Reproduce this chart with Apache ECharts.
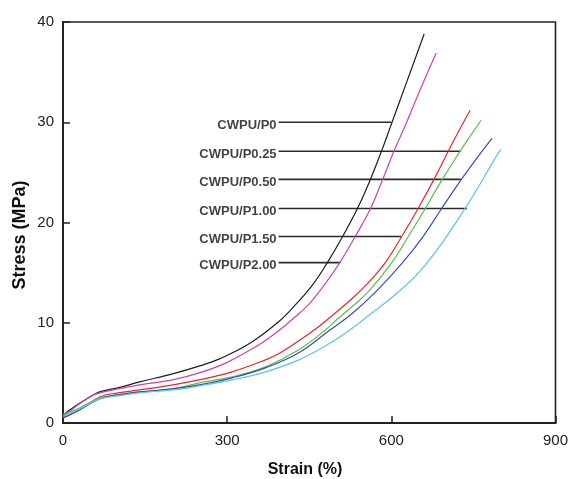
<!DOCTYPE html>
<html>
<head>
<meta charset="utf-8">
<script src="https://cdn.jsdelivr.net/npm/echarts@6/dist/echarts.min.js"></script>
<style>
  html, body { margin: 0; padding: 0; background: #fff; }
  #chart { width: 571px; height: 479px; }
</style>
</head>
<body>
<div id="chart"></div>
<script>
// Stress–strain curves, [strain %, stress MPa]
const cwpuP0 = [[0,0.8],[20,1.6],[40,2.3],[67,3.1],[100,3.5],[140,4.1],[200,4.9],[250,5.7],[286,6.4],[340,7.9],[394,10.1],[425,11.8],[455,13.7],[482,15.9],[509,18.4],[539,21.5],[561,24.2],[582,27.1],[600,29.8],[630,34.3],[660,38.8]];
const cwpuP025 = [[0,0.6],[20,1.5],[49,2.6],[67,3.0],[100,3.4],[140,3.8],[200,4.3],[249,5.0],[298,6.0],[358,7.8],[394,9.2],[431,10.9],[452,12.0],[482,14.1],[507,16.1],[534,18.6],[562,21.4],[582,24.0],[604,27.0],[628,30.0],[650,32.9],[682,36.9]];
const cwpuP050 = [[0,0.5],[30,1.3],[67,2.6],[100,3.0],[140,3.3],[200,3.8],[249,4.3],[309,5.1],[370,6.3],[394,6.9],[431,8.2],[467,9.6],[498,11.0],[528,12.4],[558,14.0],[589,16.0],[619,18.6],[649,21.4],[678,24.3],[704,27.1],[724,29.2],[744,31.2]];
const cwpuP100 = [[0,0.9],[30,1.5],[67,2.5],[100,2.8],[140,3.1],[200,3.4],[249,4.0],[309,4.6],[370,5.6],[431,7.3],[480,9.3],[498,10.2],[528,11.6],[558,13.1],[601,16.0],[631,18.6],[661,21.3],[692,24.2],[722,26.8],[744,28.6],[764,30.2]];
const cwpuP150 = [[0,0.5],[30,1.3],[67,2.4],[100,2.8],[140,3.1],[200,3.4],[249,3.8],[309,4.5],[370,5.5],[431,7.0],[486,9.2],[528,10.9],[570,13.0],[619,15.9],[658,18.6],[692,21.4],[728,24.3],[756,26.4],[784,28.4]];
const cwpuP200 = [[0,0.7],[30,1.4],[67,2.4],[100,2.7],[140,3.0],[200,3.3],[249,3.7],[309,4.3],[370,5.1],[431,6.3],[486,7.9],[522,9.2],[558,10.7],[607,12.8],[650,15.0],[692,17.9],[737,21.6],[764,24.0],[784,25.9],[800,27.3]];

const seriesNames = ['CWPU/P0','CWPU/P0.25','CWPU/P0.50','CWPU/P1.00','CWPU/P1.50','CWPU/P2.00'];
const seriesData = [cwpuP0, cwpuP025, cwpuP050, cwpuP100, cwpuP150, cwpuP200];
const seriesColors = ['#1e1e1e','#c845b0','#e8262c','#5dbb4a','#3a4db0','#5cc3e2'];

// Callout labels: stress level of each leader and where it stops (strain)
const calloutStress = [30.0, 27.1, 24.3, 21.4, 18.6, 16.0];
const calloutStart = 394;
const calloutEnd = [600, 727, 727, 738, 618, 507];

const xTicks = [0, 300, 600, 900];
const yTicks = [0, 10, 20, 30, 40];

const chart = echarts.init(document.getElementById('chart'), null, { renderer: 'canvas' });
const FONT = 'Liberation Sans, Arial, sans-serif';

const series = [];
seriesData.forEach((d, i) => {
  series.push({
    name: seriesNames[i],
    type: 'line',
    data: d,
    smooth: 0.4,
    symbol: 'none',
    lineStyle: { color: seriesColors[i], width: 1.2 },
    z: 3
  });
});
calloutStress.forEach((s, i) => {
  series.push({
    type: 'line',
    data: [[calloutStart, s], [calloutEnd[i], s]],
    symbol: 'none',
    lineStyle: { color: '#2a2a2a', width: 1.6 },
    silent: true,
    z: 2
  });
});
series.push({
  type: 'scatter',
  data: calloutStress.map((s, i) => ({ value: [calloutStart, s], name: seriesNames[i] })),
  symbolSize: 0,
  silent: true,
  label: {
    show: true,
    position: 'left',
    distance: 2,
    offset: [0, 3],
    formatter: p => p.name,
    fontFamily: FONT,
    fontWeight: 'bold',
    fontSize: 13,
    color: '#111'
  }
});

chart.setOption({
  animation: false,
  backgroundColor: '#fff',
  grid: {
    left: 63, right: 13, top: 22, bottom: 56,
    show: true, borderColor: '#222', borderWidth: 1.6
  },
  xAxis: {
    type: 'value',
    min: xTicks[0], max: xTicks[xTicks.length - 1], interval: 300,
    axisLine: { show: true, lineStyle: { color: '#222', width: 2 } },
    axisTick: { show: true, inside: true, length: 7, lineStyle: { color: '#222', width: 1.5 } },
    axisLabel: { fontFamily: FONT, fontSize: 15, color: '#222', margin: 10 },
    splitLine: { show: false }
  },
  yAxis: {
    type: 'value',
    min: yTicks[0], max: yTicks[yTicks.length - 1], interval: 10,
    axisLine: { show: true, lineStyle: { color: '#222', width: 2 } },
    axisTick: { show: true, inside: true, length: 7, lineStyle: { color: '#222', width: 1.5 } },
    axisLabel: { fontFamily: FONT, fontSize: 15, color: '#222', margin: 9 },
    splitLine: { show: false }
  },
  graphic: [
    {
      type: 'text', x: 305, y: 470,
      style: { text: 'Strain (%)', font: 'bold 16px ' + FONT, fill: '#111', textAlign: 'center', textVerticalAlign: 'middle' }
    },
    {
      type: 'text', x: 20, y: 235, rotation: Math.PI / 2,
      style: { text: 'Stress (MPa)', font: 'bold 18px ' + FONT, fill: '#111', textAlign: 'center', textVerticalAlign: 'middle' }
    }
  ],
  series: series
});
</script>
</body>
</html>
